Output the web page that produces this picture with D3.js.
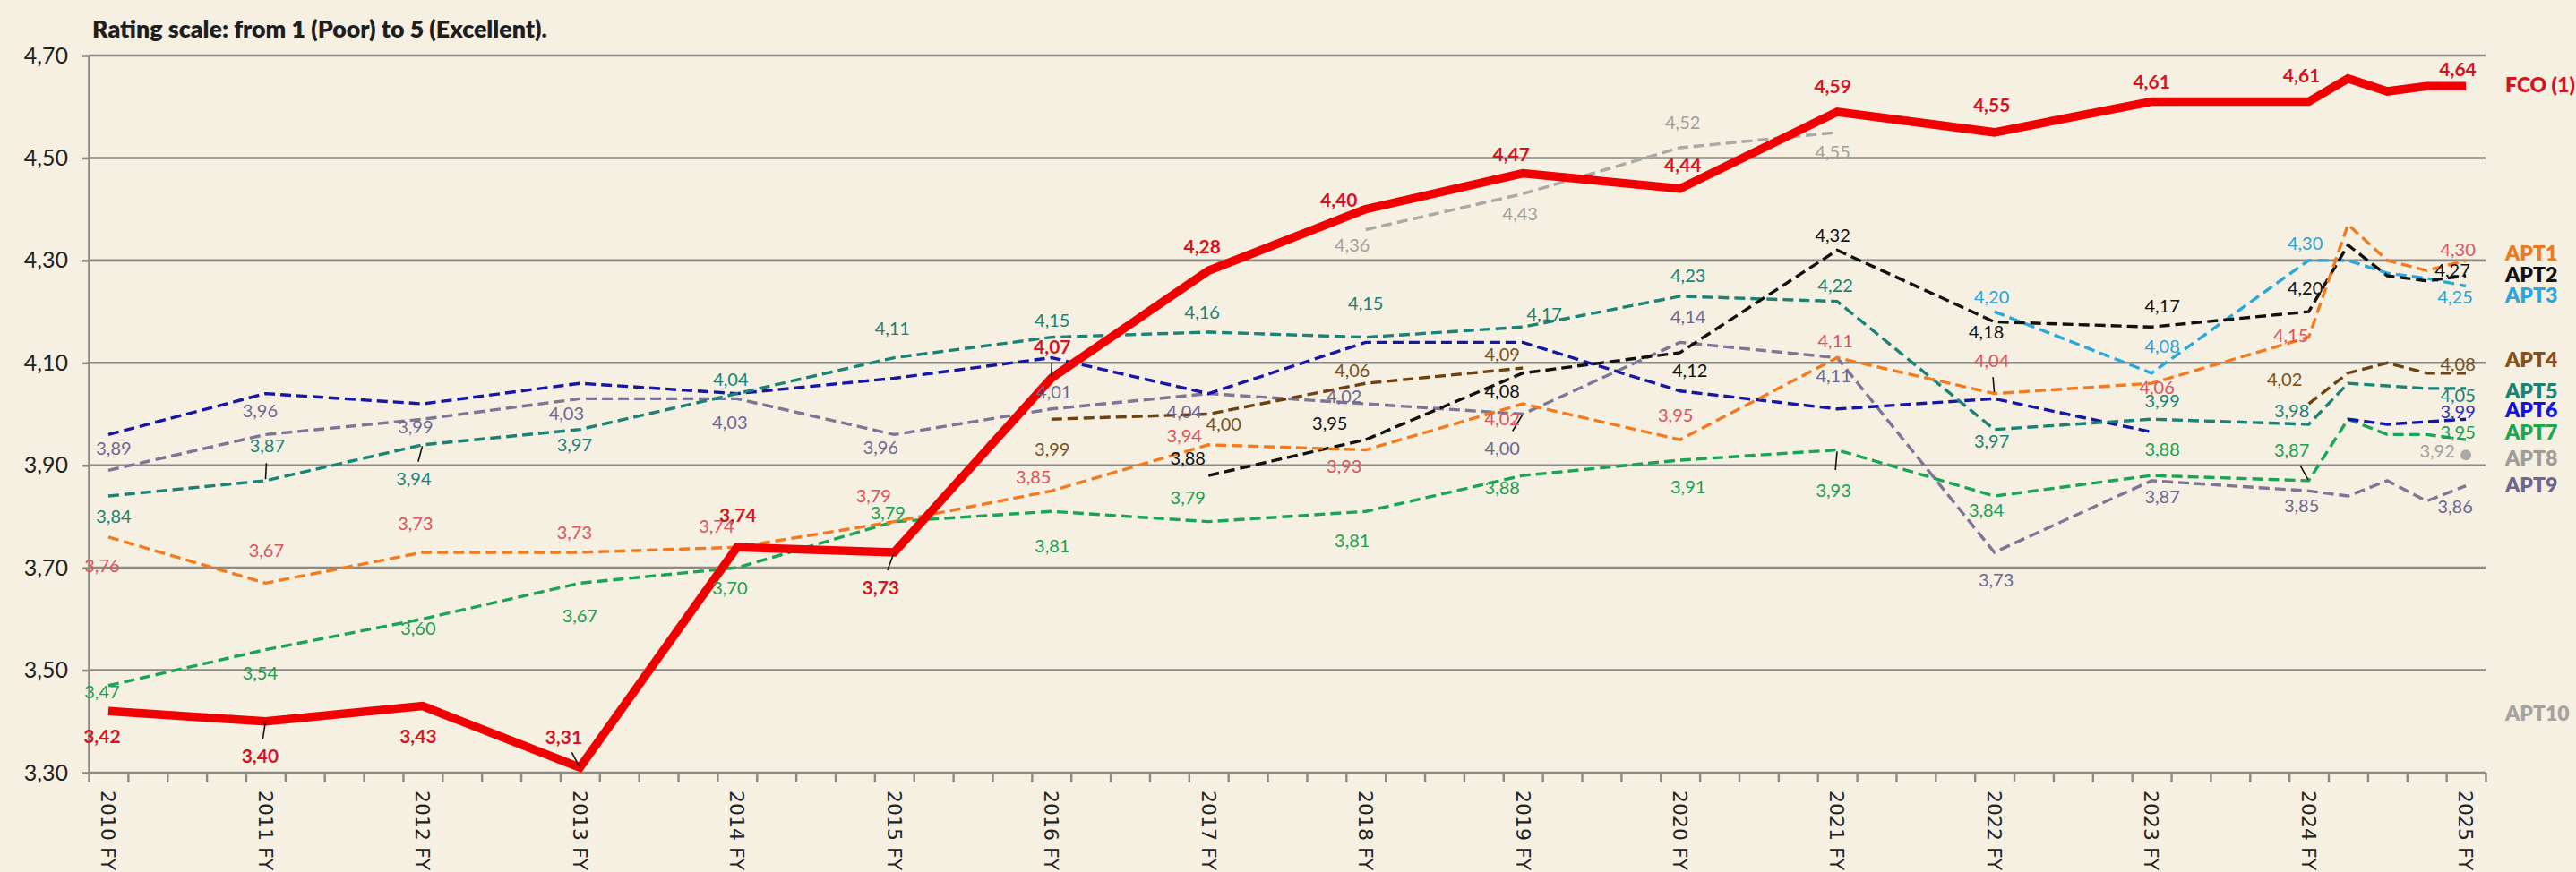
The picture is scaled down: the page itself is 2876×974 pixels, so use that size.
<!DOCTYPE html>
<html>
<head>
<meta charset="utf-8">
<script src="https://cdn.jsdelivr.net/npm/d3@7"></script>
<style>
  html, body { margin: 0; padding: 0; background: #f5f0e2; }
  svg { display: block; }
</style>
</head>
<body>
<div id="chart"></div>
<script>
// periods: yearly points, then quarterly points between 2024 and 2025
const periods = [2010, 2011, 2012, 2013, 2014, 2015, 2016, 2017, 2018, 2019, 2020, 2021, 2022, 2023, 2024, 2024.25, 2024.5, 2024.75, 2025];
const yearLabels = ["2010 FY", "2011 FY", "2012 FY", "2013 FY", "2014 FY", "2015 FY", "2016 FY", "2017 FY",
  "2018 FY", "2019 FY", "2020 FY", "2021 FY", "2022 FY", "2023 FY", "2024 FY", "2025 FY"];
const yTicks = [3.3, 3.5, 3.7, 3.9, 4.1, 4.3, 4.5, 4.7];

const fco  = [3.42, 3.40, 3.43, 3.31, 3.74, 3.73, 4.07, 4.28, 4.40, 4.47, 4.44, 4.59, 4.55, 4.61, 4.61, 4.655, 4.63, 4.64, 4.64];
const apt1 = [3.76, 3.67, 3.73, 3.73, 3.74, 3.79, 3.85, 3.94, 3.93, 4.02, 3.95, 4.11, 4.04, 4.06, 4.15, 4.37, 4.30, 4.28, 4.30];
const apt2 = [null, null, null, null, null, null, null, 3.88, 3.95, 4.08, 4.12, 4.32, 4.18, 4.17, 4.20, 4.33, 4.27, 4.26, 4.27];
const apt3 = [null, null, null, null, null, null, null, null, null, null, null, null, 4.20, 4.08, 4.30, 4.30, 4.275, 4.265, 4.25];
const apt4 = [null, null, null, null, null, null, 3.99, 4.00, 4.06, 4.09, null, null, null, null, 4.02, 4.08, 4.10, 4.08, 4.08];
const apt5 = [3.84, 3.87, 3.94, 3.97, 4.04, 4.11, 4.15, 4.16, 4.15, 4.17, 4.23, 4.22, 3.97, 3.99, 3.98, 4.06, 4.055, 4.05, 4.05];
const apt6 = [3.96, 4.04, 4.02, 4.06, 4.04, 4.07, 4.11, 4.04, 4.14, 4.14, 4.045, 4.01, 4.03, 3.965, null, 3.99, 3.98, 3.985, 3.99];
const apt7 = [3.47, 3.54, 3.60, 3.67, 3.70, 3.79, 3.81, 3.79, 3.81, 3.88, 3.91, 3.93, 3.84, 3.88, 3.87, 3.99, 3.96, 3.96, 3.95];
const apt8 = [null, null, null, null, null, null, null, null, 4.36, 4.43, 4.52, 4.55, null, null, null, null, null, null, 3.92];
const apt9 = [3.89, 3.96, 3.99, 4.03, 4.03, 3.96, 4.01, 4.04, 4.02, 4.00, 4.14, 4.11, 3.73, 3.87, 3.85, 3.84, 3.87, 3.83, 3.86];
const apt10 = periods.map(() => null);

// label offsets (px from point to label centre) for each year 2010..2025, third item = leader line
const N = null;
const lblFco  = [[-7,28],[-6,39,1],[-5,34],[-18,-34,1],[1,-36],[-15,40,1],[1,-35,1],[-7,-27],[-30,-10],[-13,-21],[3,-26],[-5,-28],[-3,-30],[0,-22],[-8,-29],[-9,-19]];
const lblApt1 = [[-7,32],[1,-36],[-8,-32],[-6,-22],[-23,-23],[-23,-29],[-20,-15],[-27,-10],[-24,18],[-23,17],[-5,-27],[-2,-19],[-3,-37,1],[6,5],[-20,-2],[-9,-12]];
const lblApt2 = [N,N,N,N,N,N,N,[-23,-19],[-40,-18],[-23,20],[11,20],[-5,-16],[-9,11],[12,-23],[-4,-26],[-15,-6]];
const lblApt3 = [N,N,N,N,N,N,N,N,N,N,N,N,[-3,-16],[12,-30],[-4,-19],[-12,13]];
const lblApt4 = [N,N,N,N,N,N,[1,34],[17,11],[-15,-14],[-23,-15],N,N,N,N,[-27,-27],[-9,-10]];
const lblApt5 = [[6,23],[2,-39,1],[-10,38,1],[-6,17],[-7,-16],[-2,-33],[1,-19],[-7,-22],[0,-38],[24,-14],[9,-23],[-2,-18],[-3,13],[12,-20],[-19,-15],[-9,8]];
const lblApt6 = [N,N,N,N,N,N,N,N,N,N,N,N,N,N,N,[-9,-8]];
const lblApt7 = [[-7,7],[-6,26],[-5,11],[0,37],[-8,23],[-7,-10],[1,39],[-23,-27],[-15,33],[-23,14],[9,30],[-4,45,1],[-9,16],[12,-29],[-19,-34,1],[-9,-8]];
const lblApt8 = [N,N,N,N,N,N,N,N,[-15,17],[-3,23],[3,-28],[-5,22],N,N,N,[-32,-4]];
const lblApt9 = [[6,-24],[-6,-26],[-8,9],[-15,17],[-8,27],[-15,15],[3,-19],[-27,20],[-24,-8],[-23,38,1],[9,-28],[-4,20],[2,31],[12,18],[-8,17],[-12,23]];

const series = [
  {name: "APT9",  values: apt9,  line: "#7d7697", text: "#6d6892", key: "#6d6892", keyY: 542, labels: lblApt9},
  {name: "APT8",  values: apt8,  line: "#a9a9a6", text: "#a0a09c", key: "#9c9c98", keyY: 512, labels: lblApt8},
  {name: "APT7",  values: apt7,  line: "#1ba455", text: "#1c9f50", key: "#1ca552", keyY: 483, labels: lblApt7},
  {name: "APT6",  values: apt6,  line: "#1717a6", text: "#3030b8", key: "#1414e0", keyY: 458, labels: lblApt6},
  {name: "APT5",  values: apt5,  line: "#1b8276", text: "#1a8275", key: "#1a8275", keyY: 437, labels: lblApt5},
  {name: "APT4",  values: apt4,  line: "#6e4210", text: "#7a5020", key: "#8a4f14", keyY: 402, labels: lblApt4},
  {name: "APT3",  values: apt3,  line: "#2aa8dc", text: "#2aa3d8", key: "#2aa6de", keyY: 330, labels: lblApt3},
  {name: "APT2",  values: apt2,  line: "#111111", text: "#111111", key: "#111111", keyY: 307, labels: lblApt2},
  {name: "APT1",  values: apt1,  line: "#f47a1e", text: "#e0525a", key: "#eb7a24", keyY: 283, labels: lblApt1},
  {name: "APT10", values: apt10, line: "#999999", text: "#999999", key: "#a3a3a0", keyY: 797, labels: []}
];
const fcoSeries = {name: "FCO (1)", values: fco, line: "#f00000", text: "#d4141e", key: "#d4141e", keyY: 95, labels: lblFco};

const W = 2876, H = 974;
const fmt = d3.formatLocale({decimal: ",", thousands: ".", grouping: [3], currency: ["", ""]}).format(".2f");

const x = d3.scaleLinear().domain([2009.875, 2025.125]).range([99, 2775]);
const y = d3.scaleLinear().domain([3.3, 4.7]).range([863, 62]);

const svg = d3.select("#chart").append("svg").attr("width", W).attr("height", H);
svg.append("rect").attr("width", W).attr("height", H).attr("fill", "#f5f0e2");

svg.append("text")
  .attr("x", 103).attr("y", 42)
  .attr("font-family", "Lato, 'Noto Sans', sans-serif")
  .attr("font-weight", 800).attr("font-size", 26).attr("fill", "#1e1e1e")
  .attr("textLength", 508).attr("lengthAdjust", "spacingAndGlyphs")
  .text("Rating scale: from 1 (Poor) to 5 (Excellent).");

// gridlines
svg.append("g").selectAll("line").data(yTicks).join("line")
  .attr("x1", 99).attr("x2", 2775)
  .attr("y1", d => y(d)).attr("y2", d => y(d))
  .attr("stroke", "#8b8a84").attr("stroke-width", 2.6);

// y axis
const yAxis = svg.append("g").attr("transform", "translate(99,0)")
  .call(d3.axisLeft(y).tickValues(yTicks).tickSize(7).tickSizeOuter(0).tickPadding(16).tickFormat(fmt));
yAxis.select(".domain").attr("stroke", "#8b8a84").attr("stroke-width", 2.6);
yAxis.selectAll(".tick line").attr("stroke", "#8b8a84").attr("stroke-width", 2.6);
yAxis.selectAll(".tick text").attr("font-family", "Lato, sans-serif").attr("font-size", 25).attr("fill", "#222");

// x axis: category edges every quarter
const edges = d3.range(62).map(i => 2009.875 + i * 0.25);
const xAxis = svg.append("g").attr("transform", `translate(0,${y(3.3)})`)
  .call(d3.axisBottom(x).tickValues(edges).tickSize(11).tickFormat(""));
xAxis.select(".domain").remove();
xAxis.selectAll(".tick line").attr("stroke", "#8b8a84").attr("stroke-width", 2.4);

svg.append("g").selectAll("text").data(yearLabels).join("text")
  .attr("transform", (d, i) => `translate(${x(2010 + i)},883) rotate(90)`)
  .attr("dy", "0.35em")
  .attr("font-family", "'DejaVu Sans', sans-serif").attr("font-size", 22).attr("fill", "#222")
  .text(d => d);

const pts = s => s.values.map((v, i) => ({t: periods[i], v}));
const line = d3.line().defined(d => d.v != null).x(d => x(d.t)).y(d => y(d.v));

const gLines = svg.append("g");
series.forEach(s => {
  gLines.append("path").datum(pts(s))
    .attr("d", line).attr("fill", "none")
    .attr("stroke", s.line).attr("stroke-width", 3.4)
    .attr("stroke-dasharray", "12,6");
  // isolated points get a marker
  const iso = pts(s).filter((d, i, a) => d.v != null && (a[i - 1] == null || a[i - 1].v == null) && (a[i + 1] == null || a[i + 1].v == null));
  gLines.selectAll(null).data(iso).join("circle")
    .attr("cx", d => x(d.t)).attr("cy", d => y(d.v)).attr("r", 6).attr("fill", s.line);
});
gLines.append("path").datum(pts(fcoSeries))
  .attr("d", line).attr("fill", "none")
  .attr("stroke", fcoSeries.line).attr("stroke-width", 9.5)
  .attr("stroke-linejoin", "miter");

// data labels
const gLabels = svg.append("g");
[...series, fcoSeries].forEach(s => {
  const isFco = s === fcoSeries;
  s.labels.forEach((o, k) => {
    if (!o) return;
    const idx = k < 15 ? k : periods.length - 1;
    const v = s.values[idx];
    if (v == null) return;
    const px = x(periods[idx]), py = y(v);
    const cx = px + o[0], cy = py + o[1];
    if (o[2]) {
      gLabels.append("line")
        .attr("x1", px + (cx - px) * 0.04).attr("y1", py + (cy - py) * 0.04)
        .attr("x2", px + (cx - px) * 0.5).attr("y2", py + (cy - py) * 0.5)
        .attr("stroke", "#111").attr("stroke-width", 1.6);
    }
    gLabels.append("text")
      .attr("x", cx).attr("y", cy).attr("dy", "0.35em")
      .attr("text-anchor", "middle")
      .attr("font-family", "Lato, sans-serif").attr("font-size", isFco ? 21 : 20)
      .attr("font-weight", isFco ? 700 : 400)
      .attr("fill", s.text)
      .text(fmt(v));
  });
});

// series names at the right edge
svg.append("g").selectAll("text").data([fcoSeries, ...series]).join("text")
  .attr("x", 2797).attr("y", d => d.keyY).attr("dy", "0.35em")
  .attr("font-family", "Lato, sans-serif").attr("font-weight", 800)
  .attr("font-size", 23)
  .attr("fill", d => d.key)
  .text(d => d.name);
</script>
</body>
</html>
